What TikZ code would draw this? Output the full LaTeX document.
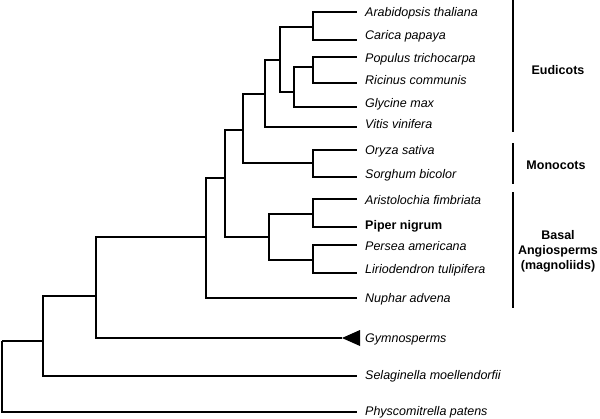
\documentclass[tikz,border=0pt]{standalone}
\usepackage{fontspec}
\setmainfont{Liberation Sans}
\begin{document}
\begin{tikzpicture}[x=1pt,y=-1pt,
  br/.style={line width=1.4pt},
  grp/.style={line width=2.6pt},
  sp/.style={anchor=base west, inner sep=0pt, font=\fontsize{12.5}{15}\selectfont\itshape},
  spb/.style={anchor=base west, inner sep=0pt, font=\fontsize{12.5}{15}\selectfont\bfseries},
  glabel/.style={inner sep=0pt, align=center, font=\fontsize{12.5}{15}\selectfont\bfseries}]
\useasboundingbox (0,0) rectangle (600,418);
% leaf ends
\coordinate (eA) at (357,12);
\coordinate (eC) at (357,40);
\coordinate (ePo) at (357,57);
\coordinate (eRi) at (357,83);
\coordinate (eGl) at (357,107);
\coordinate (eVi) at (357,127);
\coordinate (eOr) at (357,150);
\coordinate (eSo) at (357,177);
\coordinate (eAr) at (357,199);
\coordinate (ePi) at (357,227);
\coordinate (ePe) at (357,245);
\coordinate (eLi) at (357,273);
\coordinate (eNu) at (357,298);
\coordinate (eGy) at (342,338);
\coordinate (eSe) at (357,376);
\coordinate (ePh) at (357,412);
% labels
\node[sp] (A) at (365,16) {Arabidopsis thaliana};
\node[sp] (C) at (365,39) {Carica papaya};
\node[sp] (Po) at (365,62) {Populus trichocarpa};
\node[sp] (Ri) at (365,84) {Ricinus communis};
\node[sp] (Gl) at (365,107) {Glycine max};
\node[sp] (Vi) at (365,128) {Vitis vinifera};
\node[sp] (Or) at (365,154) {Oryza sativa};
\node[sp] (So) at (365,178) {Sorghum bicolor};
\node[sp] (Ar) at (365,204) {Aristolochia fimbriata};
\node[spb] (Pi) at (365,229) {Piper nigrum};
\node[sp] (Pe) at (365,250) {Persea americana};
\node[sp] (Li) at (365,273) {Liriodendron tulipifera};
\node[sp] (Nu) at (365,302) {Nuphar advena};
\node[sp] (Gy) at (365,342) {Gymnosperms};
\node[sp] (Se) at (365,379) {Selaginella moellendorfii};
\node[sp] (Ph) at (365,415) {Physcomitrella patens};
% internal nodes
\coordinate (n1) at (313,27);
\coordinate (n2) at (313,67);
\coordinate (n3) at (294,92);
\coordinate (n4) at (280,60);
\coordinate (n5) at (265,94);
\coordinate (n6) at (313,163);
\coordinate (n7) at (243,130);
\coordinate (n8) at (313,214);
\coordinate (n9) at (313,260);
\coordinate (n10) at (269,237);
\coordinate (n11) at (225,178);
\coordinate (n12) at (206,237);
\coordinate (n13) at (96,296);
\coordinate (n14) at (43,341);
\coordinate (n15) at (2,341);
% branches
\draw[br] (n1) |- (eA); \draw[br] (n1) |- (eC);
\draw[br] (n2) |- (ePo); \draw[br] (n2) |- (eRi);
\draw[br] (n3) |- (n2); \draw[br] (n3) |- (eGl);
\draw[br] (n4) |- (n1); \draw[br] (n4) |- (n3);
\draw[br] (n5) |- (n4); \draw[br] (n5) |- (eVi);
\draw[br] (n6) |- (eOr); \draw[br] (n6) |- (eSo);
\draw[br] (n7) |- (n5); \draw[br] (n7) |- (n6);
\draw[br] (n8) |- (eAr); \draw[br] (n8) |- (ePi);
\draw[br] (n9) |- (ePe); \draw[br] (n9) |- (eLi);
\draw[br] (n10) |- (n8); \draw[br] (n10) |- (n9);
\draw[br] (n11) |- (n7); \draw[br] (n11) |- (n10);
\draw[br] (n12) |- (n11); \draw[br] (n12) |- (eNu);
\draw[br] (n13) |- (n12); \draw[br] (n13) |- (eGy);
\draw[br] (n14) |- (n13); \draw[br] (n14) |- (eSe);
\draw[br] (n15) -- (n14); \draw[br] (n15) |- (ePh);
% collapsed gymnosperm clade
\coordinate (tA) at (360,330);
\coordinate (tB) at (360,346);
\fill (eGy) -- (tA) -- (tB) -- cycle;
% group brackets
\coordinate (g1a) at (513,0);   \coordinate (g1b) at (513,132);
\coordinate (g2a) at (513,143); \coordinate (g2b) at (513,184);
\coordinate (g3a) at (513,192); \coordinate (g3b) at (513,308);
\draw[grp] (g1a) -- (g1b);
\draw[grp] (g2a) -- (g2b);
\draw[grp] (g3a) -- (g3b);
\node[glabel, anchor=base] (eud) at (558,74) {Eudicots};
\node[glabel, anchor=base] (mon) at (556,169) {Monocots};
\node[glabel] (bas) at (558,251) {Basal\\Angiosperms\\(magnoliids)};
\end{tikzpicture}
\end{document}
